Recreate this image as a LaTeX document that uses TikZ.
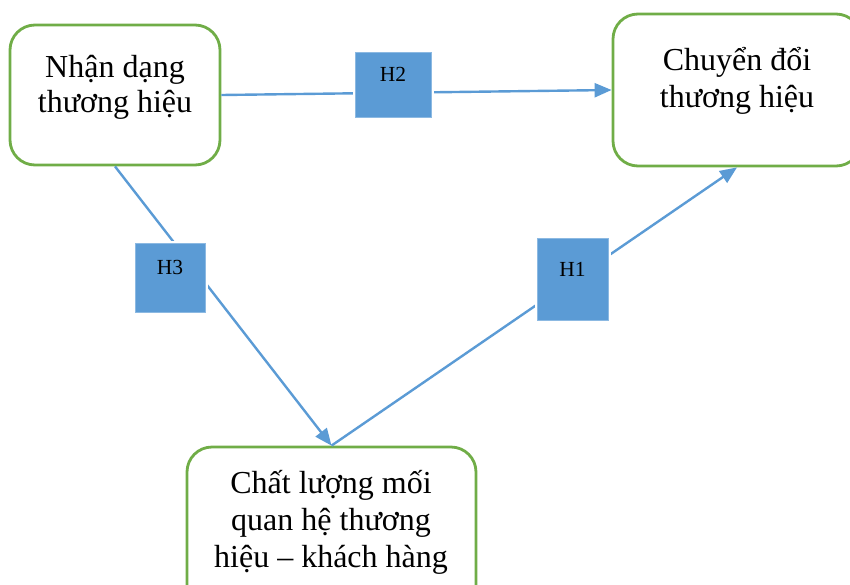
\documentclass[tikz,border=0pt]{standalone}
\usepackage{fontspec}
\setmainfont{Liberation Serif}
\usetikzlibrary{arrows.meta}
\definecolor{bgreen}{HTML}{70AD47}
\definecolor{hblue}{HTML}{5B9BD5}
\begin{document}
\begin{tikzpicture}[x=1pt,y=-1pt,
  conbox/.style={draw=bgreen, line width=2.8pt, rounded corners=25pt, fill=white, inner sep=0pt, minimum width=#1},
  hbox/.style={fill=hblue, draw=hblue!70!white, line width=0.8pt, inner sep=0pt, preaction={draw=white, line width=5pt}},
  conn/.style={draw=hblue, line width=2.4pt, -{Triangle[length=17pt,width=14pt]}},
  big/.style={font=\fontsize{32}{36}\selectfont, anchor=base, inner sep=0pt},
  small/.style={font=\fontsize{21.5}{24}\selectfont, anchor=base, inner sep=0pt}]
\useasboundingbox (0,0) rectangle (850,584);
\begin{scope}
\clip (0,0) rectangle (850,584);
\node[conbox=210pt, minimum height=140pt] (A) at (115,95) {};
\node[conbox=248pt, minimum height=152pt] (B) at (737,90) {};
\node[conbox=289pt, minimum height=180pt] (C) at (331.5,537) {};

\draw[conn] (A.east) -- (B.west);
\draw[conn] (A.south) -- (C.north);
\draw[conn] (C.north) -- (B.south);

\node[hbox, minimum width=76pt, minimum height=65pt] (H2) at (393,84.5) {};
\node[hbox, minimum width=70pt, minimum height=69pt] (H3) at (170,277.5) {};
\node[hbox, minimum width=71pt, minimum height=82pt] (H1) at (572.5,279) {};
\node[small] (h2t) at (393,81) {H2};
\node[small] (h3t) at (170,274) {H3};
\node[small] (h1t) at (572.5,276) {H1};

\node[big] (a1) at (115,77) {Nhận dạng};
\node[big] (a2) at (115,112) {thương hiệu};
\node[big] (b1) at (737,70) {Chuyển đổi};
\node[big] (b2) at (737,107) {thương hiệu};
\node[big] (c1) at (331,493) {Chất lượng mối};
\node[big] (c2) at (331,530) {quan hệ thương};
\node[big] (c3) at (331,567) {hiệu – khách hàng};
\end{scope}
\end{tikzpicture}
\end{document}
